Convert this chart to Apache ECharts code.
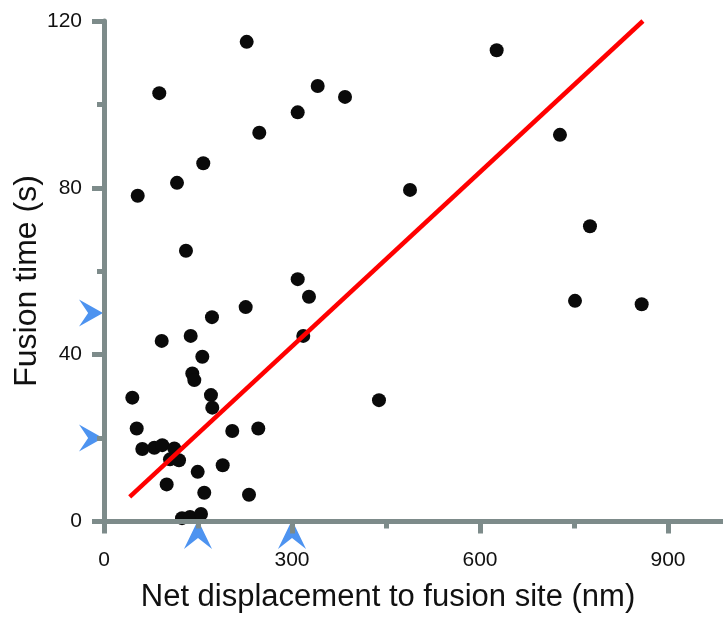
<!DOCTYPE html>
<html>
<head>
<meta charset="utf-8">
<style>
  html, body { margin: 0; padding: 0; background: #fff; }
  #main { width: 723px; height: 618px; }
</style>
<script src="https://cdn.jsdelivr.net/npm/echarts@6/dist/echarts.min.js"></script>
</head>
<body>
<div id="main"></div>
<script>
// net displacement (nm) and fusion time (s)
const displacement = [
  227.7, 88.2, 341, 384.6, 309.1, 247.8, 158.4, 116.5, 53.8, 130.8,
  309.1, 327.1, 626.6, 727.6, 488.3, 775.5, 751.6, 858, 438.8, 226.1,
  172.3, 138.3, 92.1, 318, 156.9, 140.9, 144.1, 45.2, 170.7, 172.8,
  52.2, 204.7, 246.2, 61.1, 80.3, 93.0, 112.2, 105.3, 119.7, 149.5,
  189.4, 100, 160, 231.4, 124.5, 137.2, 154.8
];
const fusionTime = [
  115.0, 102.7, 104.4, 101.8, 98.1, 93.2, 85.9, 81.2, 78.1, 64.9,
  58.1, 53.9, 113.0, 92.7, 79.5, 70.8, 52.9, 52.1, 29.1, 51.4,
  49.0, 44.5, 43.3, 44.5, 39.5, 35.5, 33.9, 29.7, 30.3, 27.3,
  22.3, 21.7, 22.3, 17.4, 17.7, 18.3, 17.5, 14.9, 14.7, 11.9,
  13.5, 8.9, 6.9, 6.4, 0.8, 1.1, 1.8
];
// fitted line end points [nm, s]
const fitStart = [41, 5.9];
const fitEnd = [860, 120];
// blue arrowheads on the axes
const yArrowTimes = [50, 20];
const xArrowDisplacements = [150, 300];

const axisColor = "#7d8b8a";
const font = "Liberation Sans, Arial, sans-serif";

const points = displacement.map((d, i) => [d, fusionTime[i]]);

function axisStyle(labelMargin) {
  return {
    type: "value",
    z: 10,
    axisLine: { show: true, onZero: false, lineStyle: { color: axisColor, width: 5 } },
    axisTick: { show: true, length: 12, lineStyle: { color: axisColor, width: 5 } },
    minorTick: { show: true, splitNumber: 2, length: 7, lineStyle: { color: axisColor, width: 5 } },
    splitLine: { show: false },
    minorSplitLine: { show: false },
    axisLabel: { fontSize: 21, color: "#111", fontFamily: font, margin: labelMargin }
  };
}

const options = {
  animation: false,
  backgroundColor: "#fff",
  grid: {
    left: 104, width: 752, top: 21, bottom: 96.5,
    containLabel: false, outerBoundsMode: "none"
  },
  xAxis: Object.assign(axisStyle(28), { min: 0, max: 1200, interval: 300 }),
  yAxis: Object.assign(axisStyle(22), { min: 0, max: 120, interval: 40 }),
  graphic: [
    {
      type: "text", x: 388, y: 597,
      style: { text: "Net displacement to fusion site (nm)", font: "31px " + font, fill: "#111", textAlign: "center", textVerticalAlign: "middle" }
    },
    {
      type: "text", x: 27, y: 281, rotation: Math.PI / 2,
      style: { text: "Fusion time (s)", font: "32px " + font, fill: "#111", textAlign: "center", textVerticalAlign: "middle" }
    }
  ],
  series: [
    {
      type: "scatter",
      data: points,
      symbolSize: 14,
      itemStyle: { color: "#0a0a0a", opacity: 1 },
      z: 2
    },
    {
      type: "line",
      data: [fitStart, fitEnd],
      symbol: "none",
      lineStyle: { color: "#ff0000", width: 4.5 },
      z: 3
    },
    {
      type: "scatter",
      data: yArrowTimes.map(t => [0, t]),
      symbol: "path://M0,0 L100,50 L0,100 L38,50 Z",
      symbolSize: [24, 27],
      symbolOffset: [-13, 0],
      clip: false,
      itemStyle: { color: "#4d93f0", opacity: 1 },
      z: 1
    },
    {
      type: "scatter",
      data: xArrowDisplacements.map(d => [d, 0]),
      symbol: "path://M50,0 L100,100 L50,62 L0,100 Z",
      symbolSize: [28, 29],
      symbolOffset: [0, 13],
      clip: false,
      itemStyle: { color: "#4d93f0", opacity: 1 },
      z: 1
    }
  ]
};

var myChart = echarts.init(document.getElementById("main"));
myChart.setOption(options);
window.onresize = function() {
  myChart.resize();
};
</script>
</body>
</html>
